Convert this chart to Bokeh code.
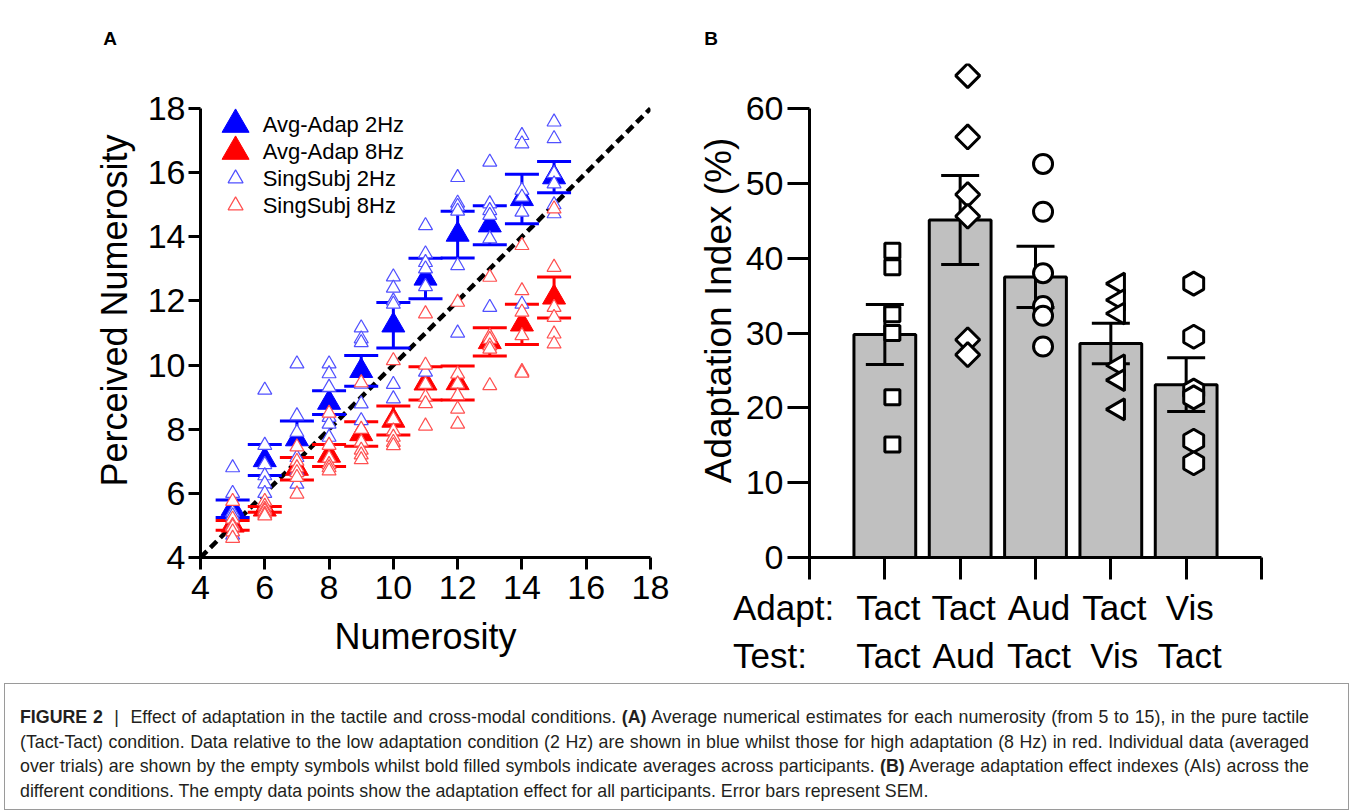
import math
from bokeh.plotting import figure
from bokeh.models import Range1d, FixedTicker, Label, Div
from bokeh.layouts import row, column
from bokeh.embed import file_html
from bokeh.resources import INLINE

# ---------------- Panel A data ----------------
numerosity = [5, 6, 7, 8, 9, 10, 11, 12, 13, 14, 15]
avg_2hz = [5.52, 7.04, 7.69, 8.83, 9.82, 11.24, 12.70, 14.07, 14.36, 15.18, 15.86]
sem_2hz = [0.27, 0.48, 0.57, 0.37, 0.48, 0.71, 0.63, 0.73, 0.61, 0.77, 0.49]
avg_8hz = [5.00, 5.50, 6.77, 7.18, 7.85, 8.27, 9.43, 9.44, 10.72, 11.27, 12.11]
sem_8hz = [0.15, 0.09, 0.35, 0.34, 0.38, 0.45, 0.52, 0.53, 0.44, 0.63, 0.64]

subj_2hz = [
    [6.80, 6.00, 5.40, 5.30, 5.00, 4.70],
    [9.22, 7.50, 6.90, 6.55, 6.30, 6.00],
    [10.04, 8.42, 7.90, 7.12, 6.70, 6.29],
    [10.04, 9.73, 9.31, 8.37, 8.16, 7.75],
    [11.16, 10.82, 10.70, 9.41, 8.79, 8.27],
    [12.75, 12.40, 12.00, 11.90, 9.40, 8.95],
    [14.35, 13.47, 13.20, 13.00, 12.45, 9.78],
    [15.85, 15.05, 14.95, 14.80, 13.10, 11.00],
    [16.33, 15.03, 14.82, 14.67, 13.94, 11.80],
    [17.16, 16.90, 15.45, 15.24, 14.77, 11.90],
    [17.58, 17.06, 15.97, 15.65, 15.00, 14.72],
]
subj_8hz = [
    [5.75, 5.20, 5.00, 4.95, 4.80, 4.60],
    [5.75, 5.60, 5.50, 5.45, 5.35, 5.30],
    [7.45, 7.00, 6.80, 6.65, 6.50, 5.98],
    [8.50, 7.50, 7.10, 6.90, 6.80, 6.70],
    [9.45, 8.00, 7.60, 7.35, 7.20, 7.05],
    [10.14, 8.30, 7.95, 7.75, 7.59, 7.49],
    [11.60, 10.00, 9.40, 9.00, 8.80, 8.10],
    [11.96, 9.72, 9.41, 9.05, 8.63, 8.16],
    [12.74, 10.90, 10.80, 10.60, 10.50, 9.36],
    [13.73, 12.32, 11.65, 10.92, 9.80, 9.75],
    [14.87, 13.05, 11.80, 11.49, 10.97, 10.66],
]
ticks_A = [4, 6, 8, 10, 12, 14, 16, 18]
identity_line = [4, 18]
legend_labels = ["Avg-Adap 2Hz", "Avg-Adap 8Hz", "SingSubj 2Hz", "SingSubj 8Hz"]
panel_letters = ["A", "B"]

# ---------------- Panel B data ----------------
adapt_labels = ["Tact", "Tact", "Aud", "Tact", "Vis"]
test_labels = ["Tact", "Aud", "Tact", "Vis", "Tact"]
row_titles = ["Adapt:", "Test:"]
ai_mean = [29.8, 45.1, 37.5, 28.6, 23.1]
ai_sem = [4.0, 5.95, 4.1, 2.7, 3.6]
ai_subjects = [
    [41.0, 38.8, 32.5, 30.0, 21.4, 15.1],
    [64.4, 56.2, 48.5, 45.6, 29.1, 27.1],
    [52.6, 46.2, 38.0, 33.6, 32.3, 28.2],
    [36.6, 34.4, 32.6, 25.7, 23.7, 19.8],
    [36.6, 29.5, 22.3, 21.4, 15.6, 12.6],
]
ticks_B_y = [0, 10, 20, 30, 40, 50, 60]
ticks_B_x = [0, 1, 2, 3, 4, 5, 6]

FONT = "Liberation Sans"
BLUE, RED = "#0000ff", "#ff0000"
BLUE_L, RED_L = "#5050ff", "#ff5050"

# ---------------- layout geometry (pixels) ----------------
TOP_STRIP = 60           # height of the strip holding the panel letters
FRAME_TOP = 63           # page y of both plot frames' top
FRAME_BOTTOM = 557       # page y of both x axes
A_LEFT, A_W = 200, 450   # panel A frame
B_FIG_X, B_LEFT, B_W = 680, 809, 452
FRAME_H = FRAME_BOTTOM - FRAME_TOP
pxA = 449 / 14.0                 # panel A pixels per numerosity unit (4..18 over 449 px)
pxB_y = 449 / 60.0               # panel B pixels per % (0..60 over 449 px)
pxB_x = B_W / 6.0


def style_axis(ax, tick_out, font_px, standoff):
    ax.axis_line_width = 3
    ax.major_tick_line_width = 3
    ax.major_tick_out = tick_out
    ax.major_tick_in = 0
    ax.minor_tick_line_color = None
    ax.major_label_text_font = FONT
    ax.major_label_text_font_size = font_px
    ax.major_label_text_color = "black"
    ax.major_label_standoff = standoff
    ax.axis_label_text_font = FONT
    ax.axis_label_text_font_style = "normal"
    ax.axis_label_text_color = "black"


# ================= Panel A =================
pA = figure(width=680, height=683 - TOP_STRIP,
            x_range=Range1d(4, 18), y_range=Range1d(4, 4 + FRAME_H / pxA),
            output_backend="svg", toolbar_location=None,
            min_border_left=A_LEFT, min_border_right=30,
            min_border_top=FRAME_TOP - TOP_STRIP, min_border_bottom=683 - FRAME_BOTTOM)
pA.outline_line_color = None
pA.grid.visible = False

for ax in (pA.xaxis[0], pA.yaxis[0]):
    ax.ticker = FixedTicker(ticks=ticks_A)
    ax.bounds = (ticks_A[0], ticks_A[-1])
    style_axis(ax, 12, "34px", 6)
    ax.axis_label_text_font_size = "36px"
pA.yaxis.major_label_standoff = 3
pA.xaxis.axis_label = "Numerosity"
pA.yaxis.axis_label = "Perceived Numerosity"
pA.xaxis.axis_label_standoff = 14
pA.yaxis.axis_label_standoff = 10

pA.line(identity_line, identity_line, line_color="black", line_width=4.5, line_dash="9 5")

for avg, sem, col in ((avg_2hz, sem_2hz, BLUE), (avg_8hz, sem_8hz, RED)):
    lo = [m - s for m, s in zip(avg, sem)]
    hi = [m + s for m, s in zip(avg, sem)]
    pA.segment(x0=numerosity, y0=lo, x1=numerosity, y1=hi, line_color=col, line_width=3)
    pA.scatter(x=numerosity + numerosity, y=lo + hi, marker="dash", size=34,
               line_color=col, line_width=3)
    pA.scatter(x=numerosity, y=avg, marker="triangle", size=23,
               fill_color=col, line_color=col, line_width=1)

for subj, col in ((subj_2hz, BLUE_L), (subj_8hz, RED_L)):
    xs, ys = [], []
    for n, vals in zip(numerosity, subj):
        xs += [n] * len(vals)
        ys += vals
    pA.scatter(x=xs, y=ys, marker="triangle", size=14, fill_color="white",
               line_color=col, line_width=1.2)

# hand-built legend (marker sizes differ between entries, as in the original)
leg_y = [18 - (16 + 27 * k) / pxA for k in range(4)]
leg_mx = 4 + 35 / pxA
leg_tx = 4 + 62 / pxA
leg_style = [(BLUE, BLUE, 27, 1), (RED, RED, 27, 1), ("white", BLUE_L, 15, 1.2), ("white", RED_L, 15, 1.2)]
for yk, lab, (fc, lc, sz, lw) in zip(leg_y, legend_labels, leg_style):
    pA.scatter(x=[leg_mx], y=[yk], marker="triangle", size=sz, fill_color=fc,
               line_color=lc, line_width=lw)
    pA.add_layout(Label(x=leg_tx, y=yk, text=lab, text_font=FONT, text_font_size="22px",
                        text_align="left", text_baseline="middle", text_color="black"))

# ================= Panel B =================
B_BOTTOM_BORDER = 30
pB = figure(width=671, height=FRAME_TOP - TOP_STRIP + FRAME_H + B_BOTTOM_BORDER,
            x_range=Range1d(0, 6), y_range=Range1d(0, FRAME_H / pxB_y),
            output_backend="svg", toolbar_location=None,
            min_border_left=B_LEFT - B_FIG_X, min_border_right=671 - (B_LEFT - B_FIG_X) - B_W,
            min_border_top=FRAME_TOP - TOP_STRIP, min_border_bottom=B_BOTTOM_BORDER)
pB.outline_line_color = None
pB.grid.visible = False

yb = pB.yaxis[0]
yb.ticker = FixedTicker(ticks=ticks_B_y)
yb.bounds = (ticks_B_y[0], ticks_B_y[-1])
style_axis(yb, 22, "34px", 4)
yb.axis_label = "Adaptation Index (%)"
yb.axis_label_text_font_size = "37px"
yb.axis_label_standoff = 4

xb = pB.xaxis[0]
xb.ticker = FixedTicker(ticks=ticks_B_x)
style_axis(xb, 22, "1px", 0)
xb.major_label_overrides = {t: "" for t in ticks_B_x}

pos = list(range(1, len(ai_mean) + 1))
pB.vbar(x=pos, top=ai_mean, width=0.82, fill_color="#c0c0c0", line_color="black", line_width=3)
lo = [m - s for m, s in zip(ai_mean, ai_sem)]
hi = [m + s for m, s in zip(ai_mean, ai_sem)]
pB.segment(x0=pos, y0=lo, x1=pos, y1=hi, line_color="black", line_width=3)
pB.scatter(x=pos + pos, y=lo + hi, marker="dash", size=38, line_color="black", line_width=3)

markers = [("square", 0.0, 15), ("square", math.pi / 4, 17), ("circle", 0.0, 19),
           ("triangle", math.pi / 2, 21), ("hex", math.pi / 2, 23)]
for i, (vals, (mk, ang, sz)) in enumerate(zip(ai_subjects, markers)):
    pB.scatter(x=[pos[i] + 0.1] * len(vals), y=vals, marker=mk, angle=ang, size=sz,
               fill_color="white", line_color="black", line_width=3)

# ---------------- text strips (HTML) ----------------
SPAN = ('<span style="position:absolute;left:%.1fpx;top:%.1fpx;transform:translate(%s,-50%%);'
        'white-space:nowrap;font-family:\'Liberation Sans\',Arial,sans-serif;font-size:%s;'
        'font-weight:%s;line-height:1;color:black;">%s</span>')

# panel letters
letter_x = [110, 711]
letters_html = ('<div style="position:relative;width:1351px;height:%dpx;">' % TOP_STRIP
                + "".join(SPAN % (lx, 38, "-50%", "19px", "bold", t)
                          for lx, t in zip(letter_x, panel_letters)) + "</div>")
letters = Div(text=letters_html, width=1351, height=TOP_STRIP, margin=(0, 0, 0, 0))

# condition rows below panel B
rows_top = FRAME_BOTTOM + B_BOTTOM_BORDER
rows_h = 683 - rows_top
row_cy = [607 - rows_top, 655 - rows_top]
title_left = 733 - B_FIG_X
parts = []
for cy, title, labels in zip(row_cy, row_titles, (adapt_labels, test_labels)):
    parts.append(SPAN % (title_left, cy, "0", "35px", "normal", title))
    for p_, lab in zip(pos, labels):
        cx = (B_LEFT - B_FIG_X) + p_ * pxB_x + 4
        parts.append(SPAN % (cx, cy, "-50%", "35px", "normal", lab))
rows_html = '<div style="position:relative;width:671px;height:%dpx;">' % rows_h + "".join(parts) + "</div>"
rows_div = Div(text=rows_html, width=671, height=rows_h, margin=(0, 0, 0, 0))

# ================= Caption =================
caption_lines = [
    "<b>FIGURE 2</b> &nbsp;|&nbsp; Effect of adaptation in the tactile and cross-modal conditions. <b>(A)</b> Average numerical estimates for each numerosity (from 5 to 15), in the pure tactile",
    "(Tact-Tact) condition. Data relative to the low adaptation condition (2 Hz) are shown in blue whilst those for high adaptation (8 Hz) in red. Individual data (averaged",
    "over trials) are shown by the empty symbols whilst bold filled symbols indicate averages across participants. <b>(B)</b> Average adaptation effect indexes (AIs) across the",
    "different conditions. The empty data points show the adaptation effect for all participants. Error bars represent SEM.",
]
line_divs = []
for k, ln in enumerate(caption_lines):
    just = "text-align:justify;text-align-last:justify;" if k < len(caption_lines) - 1 else ""
    line_divs.append('<div style="width:1289px;white-space:nowrap;%s">%s</div>' % (just, ln))
cap_html = ('<div style="margin-left:4px;width:1345px;height:127px;box-sizing:border-box;'
            'border:1px solid #9a9a9a;padding:21px 0 0 15px;font-family:\'Liberation Sans\',Arial,sans-serif;'
            'font-size:17.8px;line-height:24.7px;color:#231f20;">' + "".join(line_divs) + "</div>")
cap = Div(text=cap_html, width=1351, height=127, margin=(0, 0, 0, 0))

layout = column(letters, row(pA, column(pB, rows_div)), cap)
open("out.html", "w").write(file_html(layout, INLINE))
